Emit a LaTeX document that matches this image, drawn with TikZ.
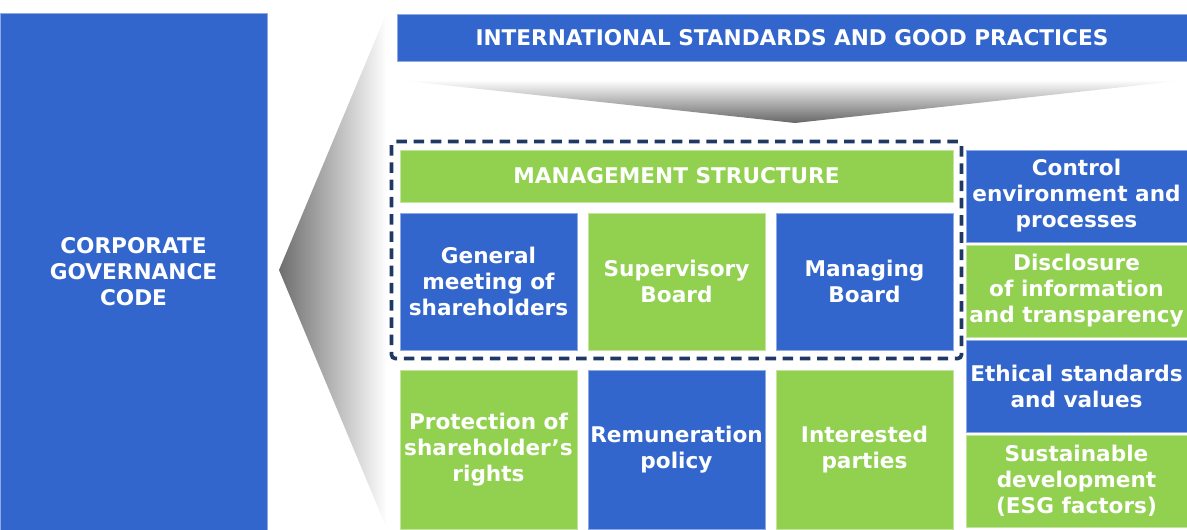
\documentclass[tikz,border=0pt]{standalone}
\usepackage{fontspec}
\setmainfont{DejaVu Sans}
\usetikzlibrary{fit}
\definecolor{royal}{HTML}{3366CC}
\definecolor{lime}{HTML}{92D050}
\definecolor{navy}{HTML}{1F3864}
\tikzset{
  tile/.style={fill=#1,draw=#1!55!white,line width=0.5pt,text=white,
    font=\fontsize{12.3}{14.8}\selectfont\bfseries,align=center,inner sep=0pt},
  tile/.default=royal,
  frame/.style={draw=navy,line width=2.1pt,dash pattern=on 6pt off 3.8pt,
    rounded corners=2pt,inner sep=1.6mm},
}

\begin{document}
\begin{tikzpicture}[x=0.2mm,y=-0.2mm]
  \useasboundingbox (0,0) rectangle (1187,529);
  % funnels
  \shade[left color=black!57,right color=white] (279,270) -- (387,12) -- (387,529) -- cycle;
  \shade[top color=white,bottom color=black!60] (397,80) -- (1187,80) -- (795,123) -- cycle;
  % code and standards
  \node[tile,minimum width=53.4mm,minimum height=103.4mm] (code) at (133.5,271.5)
    {CORPORATE\\GOVERNANCE\\CODE};
  \node[tile,minimum width=158mm,minimum height=9.4mm] (intl) at (792,37.5)
    {INTERNATIONAL STANDARDS AND GOOD PRACTICES};
  % management structure
  \node[tile=lime,minimum width=110.6mm,minimum height=10.4mm] (mgmt) at (676.5,176)
    {MANAGEMENT STRUCTURE};
  \node[tile,minimum width=35.4mm,minimum height=27.4mm] (gms) at (488.5,281.5)
    {General\\meeting of\\shareholders};
  \node[tile=lime,minimum width=35.4mm,minimum height=27.4mm] (sup) at (676.5,281.5)
    {Supervisory\\Board};
  \node[tile,minimum width=35.4mm,minimum height=27.4mm] (mng) at (864.5,281.5)
    {Managing\\Board};
  \node[frame,fit=(mgmt)(gms)(mng)] (struct) {};
  % lower row
  \node[tile=lime,minimum width=35.4mm,minimum height=31.8mm] (prot) at (488.5,449.5)
    {Protection of\\shareholder’s\\rights};
  \node[tile,minimum width=35.4mm,minimum height=31.8mm] (remun) at (676.5,449.5)
    {Remuneration\\policy};
  \node[tile=lime,minimum width=35.4mm,minimum height=31.8mm] (inter) at (864.5,449.5)
    {Interested\\parties};
  % right column
  \node[tile,minimum width=44.2mm,minimum height=18.4mm] (ctrl) at (1076.5,196)
    {Control\\environment and\\processes};
  \node[tile=lime,minimum width=44.2mm,minimum height=18.4mm] (discl) at (1076.5,291)
    {Disclosure\\of information\\and transparency};
  \node[tile,minimum width=44.2mm,minimum height=18.4mm] (ethic) at (1076.5,386)
    {Ethical standards\\and values};
  \node[tile=lime,minimum width=44.2mm,minimum height=18.4mm] (esg) at (1076.5,481)
    {Sustainable\\development\\(ESG factors)};
\end{tikzpicture}
\end{document}
